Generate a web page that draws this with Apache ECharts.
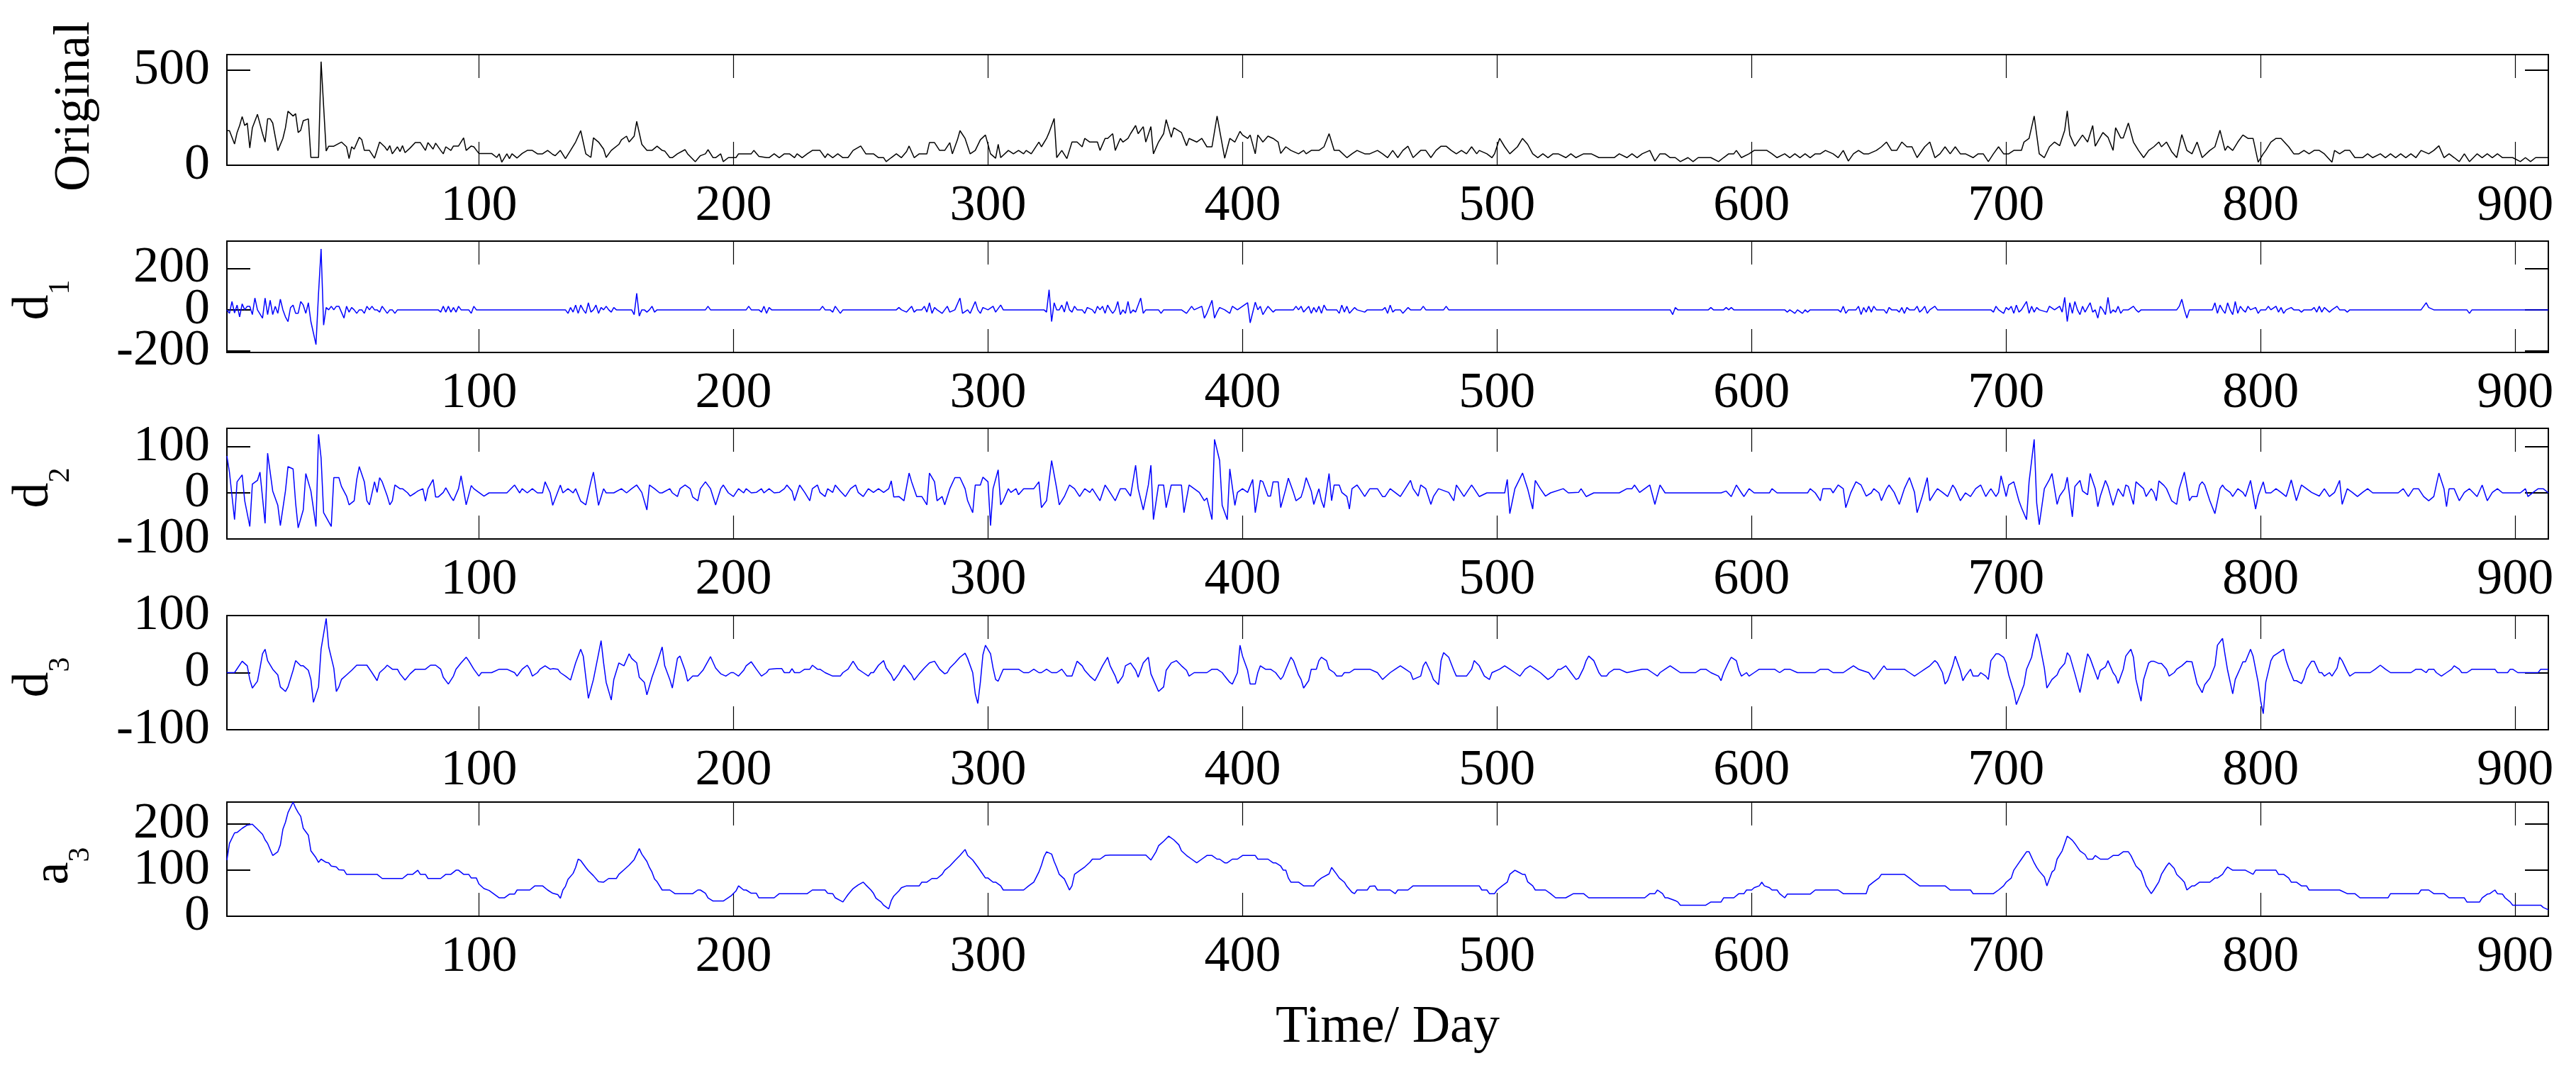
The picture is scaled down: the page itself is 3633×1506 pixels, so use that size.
<!DOCTYPE html>
<html>
<head>
<meta charset="utf-8">
<script src="https://cdn.jsdelivr.net/npm/echarts@6/dist/echarts.min.js"></script>
<style>
html,body{margin:0;padding:0;background:#fff;}
#chart{width:3633px;height:1506px;}
</style>
</head>
<body>
<div id="chart"></div>
<script>
// ---------------- data ----------------
const xTicks = [100, 200, 300, 400, 500, 600, 700, 800, 900];
const xLabel = 'Time/ Day';

// y labels: main text + subscript
const panelMain = ['Original', 'd', 'd', 'd', 'a'];
const panelSub = ['', '1', '2', '3', '3'];
const yTicks = [[0, 500], [-200, 0, 200], [-100, 0, 100], [-100, 0, 100], [0, 100, 200]];
const yRanges = [[0, 582], [-206, 332], [-100, 140], [-100, 100], [0, 248]];

const original = [[1,182],[2,182],[4,112],[5,172],[6,209],[7,256],[8,209],[9,222],[10,91],[11,197],[13,268],[15,166],[16,122],[17,244],[18,244],[19,222],[21,77],[23,141],[24,197],[25,284],[27,259],[28,271],[29,172],[30,184],[31,234],[33,244],[34,41],[36,41],[37,41],[38,545],[40,75],[41,100],[43,100],[46,122],[48,97],[49,35],[50,97],[51,85],[53,147],[54,134],[55,78],[57,78],[59,37],[61,122],[63,97],[64,78],[65,103],[66,60],[68,97],[69,72],[70,103],[71,66],[73,91],[75,119],[77,119],[79,78],[80,119],[82,85],[83,116],[85,78],[86,60],[87,97],[89,78],[90,101],[92,101],[94,144],[95,78],[97,101],[98,97],[100,62],[105,62],[107,41],[108,60],[109,16],[111,60],[112,35],[113,60],[115,38],[117,62],[119,78],[121,78],[123,60],[125,60],[127,78],[129,57],[130,50],[132,78],[134,35],[136,78],[138,122],[140,182],[142,60],[144,41],[145,144],[147,122],[149,85],[150,41],[152,78],[155,110],[156,134],[158,153],[159,122],[161,153],[162,231],[164,110],[166,78],[168,78],[170,100],[172,78],[173,75],[175,40],[176,40],[178,60],[181,82],[182,60],[185,19],[187,50],[189,60],[190,82],[192,40],[193,40],[195,60],[196,19],[198,40],[201,40],[202,60],[207,60],[208,78],[210,47],[213,40],[214,40],[216,60],[218,40],[220,60],[222,60],[224,40],[225,60],[227,40],[229,60],[231,78],[234,78],[236,40],[237,60],[239,40],[241,60],[243,40],[245,40],[247,78],[250,101],[252,60],[255,60],[257,40],[259,40],[260,19],[262,40],[264,60],[266,40],[268,72],[269,101],[271,40],[273,60],[276,60],[277,119],[279,119],[281,78],[283,78],[285,119],[286,60],[288,134],[289,182],[291,141],[293,60],[295,78],[297,134],[299,159],[301,60],[303,37],[304,110],[305,40],[308,78],[310,60],[312,78],[314,60],[315,78],[317,60],[320,122],[321,97],[323,141],[324,172],[326,246],[327,40],[329,78],[331,35],[333,122],[335,122],[337,97],[338,141],[340,122],[343,122],[344,78],[346,141],[347,141],[349,166],[350,78],[352,141],[353,122],[355,141],[356,166],[358,209],[359,166],[361,203],[362,122],[364,203],[365,60],[367,122],[369,166],[370,240],[372,147],[373,197],[376,172],[378,103],[379,141],[382,122],[384,141],[386,97],[388,97],[390,259],[393,37],[395,141],[397,122],[399,178],[400,159],[402,141],[403,159],[405,60],[406,159],[408,122],[410,153],[412,141],[414,122],[415,62],[417,97],[419,78],[422,60],[424,78],[425,60],[427,78],[430,78],[432,97],[434,166],[436,78],[438,78],[441,40],[443,60],[445,78],[448,60],[450,60],[453,78],[455,60],[457,40],[459,78],[461,40],[463,78],[465,100],[467,40],[470,78],[472,78],[474,40],[476,78],[478,100],[480,100],[482,78],[484,60],[486,78],[488,60],[490,97],[492,60],[493,78],[496,60],[498,40],[499,60],[501,141],[503,97],[505,60],[508,97],[510,141],[512,110],[514,60],[516,40],[518,60],[520,40],[522,60],[524,60],[527,40],[529,60],[531,40],[534,60],[537,60],[540,40],[546,40],[548,60],[551,40],[553,60],[555,40],[557,60],[560,78],[562,22],[564,60],[566,60],[568,40],[570,40],[572,19],[575,40],[577,19],[579,40],[584,40],[587,19],[589,40],[591,60],[593,60],[594,78],[596,40],[599,60],[601,78],[606,78],[608,60],[610,40],[613,60],[615,40],[617,60],[619,40],[621,60],[623,40],[625,60],[627,60],[629,78],[632,60],[634,40],[636,78],[638,22],[640,60],[642,78],[644,60],[646,60],[649,78],[651,97],[653,122],[655,78],[657,78],[659,122],[661,97],[663,97],[665,40],[668,97],[670,122],[672,40],[674,60],[676,97],[678,60],[680,97],[682,60],[684,60],[687,40],[689,60],[691,60],[693,19],[695,60],[697,97],[699,60],[701,60],[703,78],[706,78],[707,122],[709,141],[711,259],[713,60],[715,40],[717,97],[719,122],[721,103],[723,184],[724,286],[725,159],[727,100],[730,159],[732,122],[734,209],[735,100],[738,172],[740,147],[742,78],[743,197],[745,144],[746,144],[748,222],[750,122],[752,78],[754,40],[756,78],[758,97],[760,122],[761,97],[763,122],[765,72],[767,40],[769,161],[771,78],[773,60],[775,122],[777,40],[780,78],[782,97],[784,184],[786,78],[787,100],[789,78],[791,122],[793,159],[795,141],[797,141],[799,16],[801,60],[802,78],[804,122],[806,141],[808,141],[811,97],[813,60],[815,60],[817,78],[819,60],[821,78],[823,78],[825,60],[828,16],[829,78],[831,60],[833,78],[835,78],[837,40],[840,40],[842,60],[844,40],[847,60],[849,40],[851,60],[853,40],[855,60],[857,40],[859,60],[861,40],[863,78],[866,60],[868,78],[870,102],[872,40],[874,60],[876,40],[878,19],[880,60],[882,19],[885,60],[887,40],[889,60],[891,40],[893,60],[895,40],[897,40],[899,40],[902,19],[904,40],[906,19],[908,40],[910,40],[913,40]];

const d1 = [[1,0],[2,-17],[3,40],[4,-15],[5,23],[6,-34],[7,29],[8,0],[9,17],[10,17],[11,-23],[12,57],[13,0],[15,-40],[16,57],[17,-23],[18,46],[19,-23],[20,17],[21,-17],[22,51],[23,0],[24,-34],[25,-57],[26,11],[27,23],[28,-17],[29,-17],[30,40],[31,23],[32,-17],[33,34],[34,-57],[36,-168],[37,80],[38,294],[39,-74],[40,11],[41,0],[42,17],[43,0],[44,17],[45,17],[46,-11],[47,-40],[48,17],[49,-11],[50,11],[51,0],[52,-17],[53,0],[54,0],[55,-17],[56,17],[57,0],[58,17],[59,0],[60,0],[61,-11],[62,17],[63,0],[64,-17],[65,0],[66,0],[67,-17],[68,0],[84,0],[85,-11],[86,17],[87,-11],[88,17],[89,-11],[90,11],[91,-11],[92,17],[93,0],[96,0],[97,-17],[98,17],[99,0],[134,0],[135,-17],[136,11],[137,-11],[138,23],[139,-17],[140,23],[141,0],[142,-17],[143,34],[144,-11],[145,0],[146,23],[147,-17],[148,11],[149,0],[150,17],[151,0],[152,-11],[153,11],[154,0],[160,0],[161,-23],[162,80],[163,-30],[164,0],[165,0],[166,-11],[167,0],[168,17],[169,-11],[170,0],[189,0],[190,17],[191,0],[205,0],[206,17],[207,0],[210,0],[211,-11],[212,17],[213,-17],[214,11],[215,0],[234,0],[235,17],[236,0],[238,0],[239,-11],[240,17],[241,0],[242,-17],[243,0],[264,0],[265,11],[266,0],[268,-11],[270,17],[271,-11],[272,0],[274,0],[275,17],[276,-11],[277,34],[278,-17],[279,11],[280,0],[282,-17],[284,17],[285,-11],[287,0],[289,57],[290,-17],[292,0],[293,-17],[295,40],[296,0],[297,-17],[298,11],[300,0],[302,17],[303,-11],[305,23],[306,0],[322,0],[323,-11],[324,97],[325,-57],[326,34],[327,0],[328,0],[329,23],[330,-11],[331,40],[332,0],[333,-11],[334,17],[335,0],[337,0],[338,-17],[339,11],[341,0],[342,-17],[343,17],[344,0],[345,17],[346,-17],[347,23],[348,0],[349,-17],[350,0],[351,40],[352,-23],[353,0],[354,-17],[355,40],[356,-17],[357,0],[358,-11],[360,57],[361,-17],[362,0],[367,0],[368,-17],[369,0],[376,0],[378,-17],[380,17],[381,0],[384,17],[385,-40],[386,-17],[388,46],[389,-40],[390,-11],[391,11],[393,0],[395,-17],[396,17],[398,0],[402,34],[403,-63],[405,37],[406,0],[407,17],[408,-23],[410,17],[412,-11],[413,0],[420,0],[421,17],[422,0],[423,17],[424,-11],[426,17],[427,-17],[428,11],[429,-11],[430,17],[431,-17],[432,23],[433,0],[437,0],[438,-17],[439,23],[440,-11],[441,17],[442,-17],[444,11],[445,0],[448,-11],[449,0],[455,0],[456,11],[457,-17],[458,23],[459,-11],[460,0],[462,0],[463,-17],[465,11],[466,0],[470,0],[471,17],[472,0],[479,0],[480,17],[481,0],[568,0],[569,-23],[570,11],[571,0],[583,0],[584,11],[585,0],[589,0],[590,11],[591,0],[592,11],[593,0],[613,0],[614,-11],[615,0],[617,-17],[618,0],[620,-17],[621,0],[622,-11],[623,0],[634,0],[635,-11],[636,17],[637,-17],[638,0],[641,0],[642,17],[643,-23],[644,11],[645,-11],[646,17],[647,-11],[648,17],[649,0],[652,0],[653,-17],[654,11],[655,0],[657,0],[658,-11],[659,11],[660,-17],[661,11],[662,0],[664,0],[665,17],[666,-11],[667,0],[668,17],[669,-17],[670,0],[672,17],[673,0],[694,0],[695,-11],[696,17],[697,0],[699,-17],[700,11],[701,0],[702,17],[703,-17],[704,23],[705,-11],[706,0],[708,40],[709,-17],[710,17],[711,-11],[712,11],[713,0],[716,-11],[717,17],[719,0],[721,17],[722,-11],[723,60],[724,-57],[725,34],[726,-17],[727,40],[728,0],[729,-23],[730,17],[731,-11],[733,34],[734,-11],[735,0],[736,-40],[737,17],[738,0],[739,-23],[740,60],[741,-17],[742,0],[743,-11],[744,17],[745,-17],[746,0],[748,0],[750,17],[751,0],[752,-11],[753,0],[767,0],[768,17],[769,51],[770,0],[771,-40],[772,0],[781,0],[782,34],[783,-17],[784,23],[785,0],[786,-17],[787,34],[788,0],[789,-23],[790,40],[791,-17],[792,17],[793,0],[794,-11],[795,17],[796,0],[798,11],[799,-17],[800,0],[802,0],[803,17],[804,0],[806,17],[807,-11],[808,11],[809,-17],[810,0],[812,11],[813,0],[815,0],[816,-11],[817,0],[820,0],[821,11],[822,-11],[823,17],[824,-11],[825,11],[826,0],[827,-11],[828,0],[830,17],[831,0],[833,0],[834,-11],[835,0],[863,0],[864,17],[865,34],[866,11],[868,0],[881,0],[882,-17],[883,0],[913,0]];

const d2 = [[1,80],[2,45],[4,-58],[5,24],[7,39],[8,-17],[10,-73],[11,19],[13,27],[14,45],[16,-66],[17,86],[19,4],[21,-27],[22,-71],[24,4],[25,57],[27,52],[28,-22],[29,-76],[31,-37],[32,42],[34,4],[36,-73],[37,127],[38,76],[39,-43],[42,-73],[43,33],[45,33],[46,14],[48,-7],[49,-26],[51,-17],[52,29],[53,57],[55,24],[56,-17],[57,-26],[59,24],[60,1],[61,33],[62,24],[64,-7],[65,-26],[66,-17],[67,17],[69,9],[70,9],[72,0],[73,-7],[75,0],[76,4],[78,9],[79,-18],[80,9],[82,29],[83,-9],[84,-9],[86,1],[87,11],[89,-9],[90,-17],[92,9],[93,37],[95,-26],[97,16],[98,9],[100,1],[102,-7],[104,0],[111,0],[114,17],[116,0],[117,9],[119,0],[121,9],[123,0],[125,0],[126,24],[128,0],[129,-27],[132,17],[133,0],[135,9],[137,0],[138,9],[140,-18],[142,-26],[144,24],[145,45],[147,-27],[149,9],[150,0],[153,0],[156,9],[158,0],[160,9],[162,17],[164,1],[166,-37],[167,17],[169,9],[171,0],[172,0],[175,9],[176,0],[178,-8],[179,9],[181,17],[183,9],[184,-9],[186,-17],[187,9],[189,24],[191,9],[193,-26],[195,9],[196,17],[198,0],[200,-8],[202,9],[204,0],[205,9],[207,0],[209,1],[211,9],[212,0],[214,9],[216,0],[218,1],[220,9],[221,17],[223,4],[224,-17],[226,17],[228,1],[230,-17],[231,9],[233,17],[234,1],[236,-8],[237,9],[239,1],[240,17],[242,4],[244,-8],[246,9],[248,17],[249,1],[251,-8],[253,9],[255,1],[257,9],[259,1],[261,9],[262,26],[263,-9],[265,-8],[267,-17],[269,43],[270,24],[272,-8],[274,-8],[276,-26],[277,43],[279,24],[280,-17],[282,-8],[283,-26],[285,9],[287,33],[289,33],[291,9],[292,-17],[294,-43],[295,17],[297,17],[298,34],[300,24],[301,-71],[302,9],[304,50],[305,-26],[306,-17],[308,9],[309,1],[311,9],[312,-4],[314,9],[316,9],[318,9],[320,24],[321,-32],[323,-17],[325,70],[327,9],[328,-26],[330,-8],[332,17],[334,9],[336,-8],[338,9],[340,1],[341,9],[344,-17],[346,17],[347,9],[350,-17],[352,9],[354,9],[356,-7],[358,60],[359,9],[361,-37],[363,17],[364,60],[365,-58],[367,17],[369,17],[370,-32],[372,17],[374,17],[376,17],[377,-43],[379,17],[381,9],[383,1],[385,-17],[386,-11],[388,-58],[389,116],[391,70],[392,-27],[394,-58],[395,52],[397,-27],[398,1],[400,9],[402,1],[404,29],[405,-43],[407,27],[408,24],[410,-7],[411,-7],[412,24],[414,24],[415,-32],[417,9],[418,32],[420,1],[421,-17],[423,-9],[424,9],[425,33],[427,4],[428,-25],[430,9],[431,-17],[432,-32],[434,42],[435,-17],[436,17],[438,17],[439,1],[441,-8],[442,-35],[443,9],[445,17],[446,9],[448,-8],[450,9],[453,9],[455,-8],[456,-8],[458,9],[462,-8],[466,27],[467,9],[469,-7],[470,17],[472,9],[474,-25],[475,-8],[477,9],[481,1],[483,-17],[484,17],[485,9],[487,-8],[490,17],[491,9],[493,-8],[496,0],[503,0],[504,29],[505,-45],[507,9],[510,43],[512,9],[514,-35],[515,27],[517,9],[519,-7],[521,0],[526,9],[528,0],[532,1],[533,9],[535,-8],[538,0],[548,0],[551,9],[553,9],[554,17],[556,1],[558,9],[560,17],[562,-25],[564,17],[566,0],[588,0],[590,4],[592,-8],[594,17],[596,0],[597,-8],[599,9],[601,0],[607,0],[608,9],[610,0],[622,0],[623,9],[625,0],[627,-17],[628,9],[631,9],[632,0],[634,17],[636,9],[637,-32],[639,1],[641,24],[643,17],[645,-7],[647,0],[648,9],[650,0],[651,-17],[653,9],[654,17],[656,1],[658,-25],[660,9],[662,33],[664,1],[665,-43],[667,-8],[669,33],[670,-17],[672,1],[673,9],[675,1],[677,-8],[679,17],[680,9],[682,-17],[684,0],[686,-8],[688,9],[690,17],[692,-8],[693,1],[694,9],[696,-8],[697,1],[698,37],[700,-8],[701,17],[703,24],[705,-17],[706,-32],[708,-58],[709,24],[711,116],[712,-22],[713,-69],[715,9],[717,29],[718,42],[720,-25],[721,-7],[723,9],[724,34],[726,-52],[727,14],[729,27],[730,4],[732,-4],[733,42],[735,9],[736,-30],[737,-7],[739,27],[740,14],[742,-27],[744,9],[746,-8],[747,17],[748,14],[750,-25],[751,24],[754,9],[755,-8],[757,9],[758,1],[759,-17],[760,26],[762,16],[763,9],[765,-17],[767,-25],[768,9],[770,45],[772,-17],[773,-8],[775,-8],[776,17],[777,24],[778,17],[780,-17],[782,-45],[784,9],[785,17],[786,9],[788,1],[789,-8],[791,9],[793,1],[794,-8],[796,27],[798,-35],[799,-7],[801,24],[802,0],[804,0],[806,9],[808,1],[810,-8],[812,28],[814,-17],[816,17],[818,9],[820,1],[823,-7],[825,9],[827,-8],[829,1],[831,27],[832,-25],[834,9],[836,1],[838,-8],[840,1],[842,9],[844,0],[854,0],[856,9],[858,-8],[860,9],[862,9],[864,-8],[866,-17],[868,-8],[870,43],[872,9],[873,-30],[874,9],[876,9],[878,-17],[880,1],[882,9],[885,-8],[887,17],[889,-17],[891,1],[893,9],[895,0],[902,0],[904,9],[905,-8],[907,1],[909,9],[911,9],[913,0]];

const d3 = [[1,0],[4,0],[7,20],[9,12],[10,-12],[11,-27],[13,-15],[14,8],[15,33],[16,41],[17,21],[19,6],[21,-4],[22,-25],[24,-33],[25,-25],[27,4],[28,21],[30,12],[31,12],[33,4],[34,-12],[35,-52],[37,-25],[38,41],[40,95],[41,45],[43,8],[44,-33],[45,-25],[46,-12],[48,-4],[49,0],[50,4],[52,13],[54,13],[56,13],[58,0],[60,-14],[61,0],[63,8],[64,13],[66,6],[68,6],[69,-2],[71,-13],[73,-2],[75,6],[77,6],[79,6],[81,13],[83,13],[85,6],[86,-8],[88,-20],[90,-6],[91,6],[93,17],[95,27],[96,21],[98,6],[100,-6],[101,0],[105,0],[108,6],[111,6],[114,0],[115,-6],[116,0],[117,6],[119,13],[120,6],[121,-6],[123,0],[124,6],[126,12],[128,6],[129,7],[131,6],[132,0],[134,-6],[136,-13],[137,2],[138,17],[140,41],[141,29],[143,-45],[145,-12],[147,33],[148,56],[149,17],[150,-17],[152,-48],[153,-12],[155,17],[157,12],[159,33],[160,25],[162,17],[163,-8],[165,-17],[166,-39],[168,-8],[170,17],[172,45],[173,12],[175,-12],[176,-27],[178,25],[179,29],[181,4],[182,-15],[184,-6],[186,-6],[188,4],[190,20],[191,28],[193,8],[195,-2],[197,-6],[199,0],[200,0],[202,-6],[204,4],[205,12],[207,19],[209,6],[211,-6],[213,0],[214,6],[217,7],[219,7],[220,0],[222,0],[223,7],[224,0],[226,0],[228,6],[230,6],[231,13],[233,6],[234,6],[236,0],[239,-6],[242,-6],[243,0],[245,6],[247,20],[249,6],[251,0],[253,-6],[254,0],[255,0],[257,13],[259,21],[260,8],[262,-4],[263,-14],[265,-2],[267,13],[270,-4],[271,-13],[273,-2],[275,8],[277,17],[279,20],[281,6],[283,-2],[284,0],[285,8],[287,17],[289,27],[291,34],[292,25],[294,0],[295,-37],[296,-54],[297,-17],[298,31],[299,48],[301,33],[302,8],[303,-12],[304,-15],[306,6],[308,6],[312,6],[314,0],[316,0],[318,6],[320,0],[321,0],[323,6],[325,0],[327,0],[329,6],[331,-6],[333,-6],[335,20],[337,12],[338,4],[340,-6],[342,-14],[343,-6],[345,12],[347,27],[348,12],[350,-6],[351,-19],[353,-6],[354,12],[356,17],[358,4],[359,-8],[361,17],[363,27],[364,-2],[367,-33],[369,-25],[370,4],[372,17],[374,21],[376,12],[378,4],[379,-6],[381,0],[386,0],[388,6],[390,6],[392,0],[393,-6],[395,-17],[396,-20],[398,0],[399,48],[400,29],[402,4],[403,-20],[405,-20],[406,0],[407,12],[409,6],[411,6],[413,0],[415,-12],[416,-6],[417,6],[419,27],[420,21],[422,-4],[423,-12],[424,-27],[426,-14],[427,6],[429,6],[430,21],[431,27],[433,21],[434,6],[436,0],[437,-6],[439,-6],[440,0],[442,0],[444,6],[446,6],[448,6],[450,6],[453,0],[455,-12],[456,-8],[458,0],[460,6],[462,12],[464,6],[466,0],[467,-12],[470,-6],[471,12],[472,19],[474,0],[475,-12],[477,-21],[478,21],[479,35],[481,27],[483,4],[484,-6],[486,-6],[488,-6],[490,6],[491,21],[493,12],[495,-6],[497,-12],[498,0],[501,6],[503,12],[505,6],[507,0],[509,-6],[511,6],[513,12],[515,6],[517,0],[520,-12],[522,-6],[524,6],[525,6],[527,12],[529,0],[531,-12],[532,-10],[534,8],[535,21],[536,29],[538,21],[540,0],[541,-6],[543,-6],[544,0],[546,6],[548,6],[551,0],[557,6],[559,6],[561,0],[563,-6],[564,0],[566,6],[568,12],[570,6],[572,0],[578,0],[580,6],[582,6],[584,0],[587,-6],[588,-14],[589,0],[591,19],[592,27],[594,21],[595,4],[596,-6],[598,0],[599,-6],[601,0],[603,6],[609,6],[611,0],[613,6],[615,6],[618,0],[625,0],[627,6],[630,6],[632,0],[636,0],[638,6],[640,12],[642,6],[646,0],[648,-12],[649,-6],[651,6],[652,12],[653,6],[660,6],[662,0],[664,-6],[666,0],[668,6],[670,12],[672,21],[673,17],[675,0],[676,-20],[677,-14],[679,12],[680,29],[682,4],[683,-14],[684,-6],[686,6],[687,-6],[689,-6],[690,0],[692,-6],[693,-12],[694,21],[696,33],[697,33],[699,27],[700,17],[701,-4],[703,-33],[704,-56],[706,-33],[707,-21],[708,6],[710,27],[711,50],[712,68],[713,54],[715,8],[716,-27],[718,-12],[720,-4],[721,6],[723,16],[724,35],[725,29],[727,-2],[729,-35],[730,-12],[732,33],[733,25],[735,0],[736,-12],[737,4],[739,10],[740,21],[742,0],[743,-6],[744,-19],[746,6],[747,29],[749,41],[750,27],[751,-12],[753,-50],[754,-12],[756,17],[757,20],[758,20],[760,16],[761,16],[763,6],[764,-6],[766,0],[767,6],[769,12],[771,20],[773,19],[774,0],[775,-19],[777,-35],[778,-21],[780,-10],[782,12],[783,48],[785,60],[786,31],[787,4],[789,-37],[790,-12],[792,8],[793,19],[794,19],[796,41],[797,29],[799,-17],[800,-50],[801,-72],[802,-17],[804,21],[805,29],[807,35],[809,41],[810,21],[811,8],[813,-14],[814,-14],[816,-19],[817,-10],[818,6],[820,20],[821,20],[823,0],[824,0],[825,-6],[827,0],[828,-6],[830,8],[831,27],[832,21],[834,2],[835,-6],[837,0],[843,0],[845,6],[847,13],[849,6],[851,0],[859,0],[861,6],[863,6],[865,0],[866,6],[868,6],[869,0],[871,-6],[873,0],[875,6],[876,12],[878,6],[879,0],[881,0],[883,6],[890,6],[892,6],[893,0],[897,0],[898,6],[899,6],[901,0],[909,0],[910,6],[913,6]];

const a3 = [[1,122],[2,158],[4,181],[5,182],[7,191],[9,198],[11,200],[13,189],[15,178],[16,166],[17,158],[19,132],[21,140],[22,155],[23,189],[24,204],[25,225],[27,248],[28,235],[29,225],[30,217],[31,191],[33,176],[34,142],[36,127],[37,117],[38,124],[40,117],[41,116],[42,109],[44,107],[45,101],[47,100],[48,91],[60,91],[62,82],[70,82],[72,91],[74,91],[76,100],[77,91],[79,91],[80,82],[85,82],[87,91],[89,91],[91,100],[92,100],[94,91],[96,91],[97,83],[99,83],[100,70],[102,60],[104,56],[106,48],[108,40],[110,40],[112,48],[114,48],[115,57],[120,57],[122,66],[125,66],[127,57],[129,50],[131,47],[132,39],[133,57],[134,65],[135,80],[137,93],[138,106],[139,124],[140,121],[142,106],[143,99],[145,88],[147,75],[149,74],[151,82],[154,82],[155,91],[157,101],[159,111],[161,123],[163,147],[164,135],[166,119],[167,106],[168,96],[169,81],[170,75],[172,57],[175,57],[177,49],[184,49],[186,57],[187,57],[189,50],[190,40],[192,33],[196,33],[199,44],[201,55],[202,66],[204,57],[205,57],[207,50],[209,50],[210,40],[216,40],[218,49],[229,49],[231,57],[236,57],[237,50],[239,49],[240,40],[242,34],[243,31],[244,39],[245,47],[247,60],[249,68],[251,74],[252,68],[254,57],[255,50],[256,39],[258,31],[259,24],[261,16],[262,34],[263,44],[265,55],[266,62],[268,66],[273,66],[274,74],[276,74],[278,82],[280,82],[282,91],[283,100],[285,109],[287,121],[289,132],[291,145],[292,132],[294,122],[296,107],[297,99],[299,83],[300,83],[302,74],[303,74],[305,66],[306,57],[314,57],[316,66],[318,74],[320,96],[321,111],[322,129],[323,140],[325,135],[326,119],[327,106],[328,91],[330,81],[332,57],[333,66],[334,91],[336,99],[338,107],[340,117],[341,124],[344,124],[346,132],[348,133],[362,133],[364,122],[366,140],[367,153],[369,163],[371,174],[373,166],[375,155],[376,142],[378,132],[380,124],[382,116],[384,124],[386,132],[388,132],[390,124],[391,124],[393,116],[394,116],[396,124],[398,124],[400,132],[405,132],[406,124],[410,124],[412,116],[413,116],[415,109],[416,100],[417,100],[418,83],[419,74],[422,74],[424,66],[428,66],[429,74],[431,83],[434,92],[435,106],[437,91],[438,83],[440,74],[441,65],[443,52],[444,49],[445,57],[449,57],[450,65],[452,66],[453,57],[458,57],[460,49],[461,57],[465,57],[467,66],[493,66],[494,57],[496,57],[497,49],[499,49],[500,57],[502,66],[504,74],[505,91],[507,100],[508,97],[510,91],[511,91],[512,75],[514,66],[515,57],[519,57],[521,49],[523,40],[527,40],[530,49],[534,49],[536,40],[558,40],[560,49],[562,49],[563,57],[565,49],[566,40],[567,40],[570,34],[571,31],[572,24],[582,24],[584,31],[588,31],[589,40],[593,40],[595,49],[597,49],[598,57],[600,57],[601,62],[603,66],[604,74],[605,66],[607,62],[608,57],[610,57],[611,49],[613,40],[614,48],[623,48],[625,57],[634,57],[636,49],[645,49],[646,66],[648,75],[650,83],[651,91],[660,91],[662,83],[664,74],[666,66],[676,66],[678,57],[686,57],[687,49],[695,49],[697,57],[699,66],[700,74],[702,83],[703,100],[705,116],[706,124],[708,140],[709,140],[711,116],[712,106],[713,98],[715,85],[716,66],[718,96],[719,101],[720,124],[722,142],[723,158],[724,174],[726,165],[727,158],[728,150],[729,142],[731,134],[732,124],[734,124],[735,132],[737,124],[740,124],[742,132],[744,132],[746,140],[748,140],[749,132],[751,109],[753,98],[754,83],[755,66],[757,49],[758,57],[760,75],[761,91],[763,109],[764,116],[766,104],[767,91],[769,80],[770,74],[771,57],[773,66],[774,66],[776,74],[780,74],[782,83],[783,83],[785,91],[786,100],[787,107],[789,100],[794,100],[797,91],[798,100],[806,100],[807,91],[809,91],[811,83],[812,74],[814,74],[816,66],[818,66],[819,57],[831,57],[834,49],[837,49],[839,40],[850,40],[851,49],[862,49],[863,57],[866,57],[868,49],[872,49],[874,40],[880,40],[881,31],[886,31],[887,40],[889,48],[890,49],[892,57],[893,49],[895,48],[896,40],[898,31],[899,24],[910,24],[911,19],[913,14]];

const seriesData = [original, d1, d2, d3, a3];
const seriesColors = ['#000000', '#0000ff', '#0000ff', '#0000ff', '#0000ff'];

// ---------------- layout / style ----------------
const FONT = "'Liberation Serif', 'Times New Roman', serif";
const gridTops = [77, 340, 604, 868, 1131];
const gridHeights = [156, 157, 156, 161, 161];
const labelCenters = [150, 423, 688, 955, 1221];
const mainX = [106, 48, 48, 48, 76];
const subX = [0, 86, 86, 86, 114];
const mainW = [240, 36, 36, 36, 32];
const SUBW = 21;

const yLabelStyle = { margin: 24, fontSize: 72, lineHeight: 40, fontFamily: FONT, color: '#000', hideOverlap: false };

const grids = [], xAxes = [], yAxes = [], series = [], graphics = [];
for (let i = 0; i < 5; i++) {
  grids.push({ left: 320, right: 39, top: gridTops[i], height: gridHeights[i], containLabel: false });
  const axisLine = { show: true, onZero: false, lineStyle: { color: '#000', width: 2 } };
  xAxes.push({
    type: 'value', gridIndex: i, position: 'bottom', min: 1, max: 913,
    axisLine: axisLine, splitLine: { show: false },
    axisTick: { show: true, inside: true, length: 33, customValues: xTicks, lineStyle: { color: '#000', width: 1.2 } },
    axisLabel: { show: true, customValues: xTicks, hideOverlap: false, margin: 22, fontSize: 72, lineHeight: 72, fontFamily: FONT, color: '#000' },
    name: i === 4 ? xLabel : '', nameLocation: 'middle', nameGap: 121,
    nameTextStyle: { fontSize: 74, lineHeight: 74, fontFamily: FONT, color: '#000' }
  });
  xAxes.push({
    type: 'value', gridIndex: i, position: 'top', min: 1, max: 913,
    axisLine: axisLine, splitLine: { show: false },
    axisTick: { show: true, inside: true, length: 33, customValues: xTicks, lineStyle: { color: '#000', width: 1.2 } },
    axisLabel: { show: false }
  });
  // split tick labels into two non-adjacent sets so that none gets hidden as overlapping
  const endLabels = yTicks[i].filter((v, k) => k % 2 === 0);
  const midLabels = yTicks[i].filter((v, k) => k % 2 === 1);
  yAxes.push({
    type: 'value', gridIndex: i, position: 'left', min: yRanges[i][0], max: yRanges[i][1],
    axisLine: axisLine, splitLine: { show: false },
    axisTick: { show: true, inside: true, length: 33, customValues: yTicks[i], lineStyle: { color: '#000', width: 2 } },
    axisLabel: Object.assign({ show: true, customValues: endLabels }, yLabelStyle)
  });
  yAxes.push({
    type: 'value', gridIndex: i, position: 'right', min: yRanges[i][0], max: yRanges[i][1],
    axisLine: axisLine, splitLine: { show: false },
    axisTick: { show: true, inside: true, length: 33, customValues: yTicks[i], lineStyle: { color: '#000', width: 2 } },
    axisLabel: { show: false }
  });
  yAxes.push({
    type: 'value', gridIndex: i, position: 'left', offset: 0, min: yRanges[i][0], max: yRanges[i][1],
    axisLine: { show: false }, axisTick: { show: false }, splitLine: { show: false },
    axisLabel: Object.assign({ show: midLabels.length > 0, customValues: midLabels.length ? midLabels : [yRanges[i][0]] }, yLabelStyle)
  });
  series.push({
    type: 'line', xAxisIndex: 2 * i, yAxisIndex: 3 * i, data: seriesData[i],
    showSymbol: false, symbol: 'none', clip: true,
    lineStyle: { color: seriesColors[i], width: 1.5 }, itemStyle: { color: seriesColors[i] }
  });

  // rotated y-axis titles (reading bottom to top), subscript drawn as separate smaller text
  const total = mainW[i] + (panelSub[i] ? SUBW : 0);
  const c = labelCenters[i];
  graphics.push({
    type: 'text', x: mainX[i], y: c + total / 2 - mainW[i] / 2, rotation: Math.PI / 2, silent: true,
    style: { text: panelMain[i], fontSize: 72, fontFamily: FONT, fill: '#000',
             align: 'center', verticalAlign: 'middle', textAlign: 'center', textVerticalAlign: 'middle' }
  });
  if (panelSub[i]) {
    graphics.push({
      type: 'text', x: subX[i], y: c - total / 2 + SUBW / 2, rotation: Math.PI / 2, silent: true,
      style: { text: panelSub[i], fontSize: 42, fontFamily: FONT, fill: '#000',
               align: 'center', verticalAlign: 'middle', textAlign: 'center', textVerticalAlign: 'middle' }
    });
  }
}

const chart = echarts.init(document.getElementById('chart'), null, { renderer: 'canvas' });
chart.setOption({
  animation: false,
  backgroundColor: '#ffffff',
  grid: grids,
  xAxis: xAxes,
  yAxis: yAxes,
  series: series,
  graphic: { elements: graphics }
});
</script>
</body>
</html>
